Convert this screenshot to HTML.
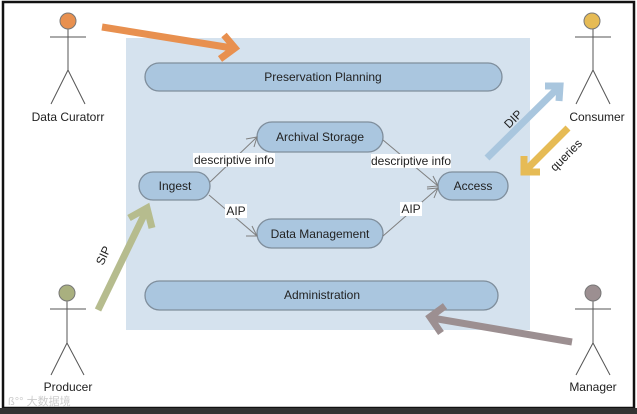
<!DOCTYPE html>
<html><head><meta charset="utf-8"><style>
html,body{margin:0;padding:0;background:#fff;}
svg{display:block;}
text{font-family:"Liberation Sans","Noto Sans CJK SC",sans-serif;}
</style></head><body>
<svg width="637" height="414" viewBox="0 0 637 414" xmlns="http://www.w3.org/2000/svg">
<rect x="0" y="0" width="637" height="414" fill="#fff"/>
<rect x="3" y="2" width="631" height="406" fill="none" stroke="#111" stroke-width="2.5"/>
<rect x="0" y="408" width="637" height="6" fill="#333"/>
<rect x="126" y="38" width="404" height="292" fill="#d5e2ee"/>
<g fill="#aac6df" stroke="#7f8e9c" stroke-width="1.3">
<rect x="145" y="63" width="357" height="28" rx="14"/>
<rect x="257" y="122" width="126" height="30" rx="15"/>
<rect x="139" y="172" width="71" height="28" rx="14"/>
<rect x="438" y="172" width="70" height="28" rx="14"/>
<rect x="257" y="219" width="126" height="29" rx="14.5"/>
<rect x="145" y="281" width="353" height="29" rx="14.5"/>
</g>
<g font-size="12" fill="#222" text-anchor="middle">
<text x="323" y="81">Preservation Planning</text>
<text x="320" y="141">Archival Storage</text>
<text x="175" y="190">Ingest</text>
<text x="473" y="190">Access</text>
<text x="320" y="238">Data Management</text>
<text x="322" y="299">Administration</text>
</g>
<g stroke="#7f7f7f" stroke-width="1" fill="none">
<line x1="210" y1="182" x2="257" y2="137"/>
<polyline points="246,139 257,137 254,147"/>
<line x1="209" y1="195" x2="257" y2="236"/>
<polyline points="246,236 257,236 252,226"/>
<line x1="383" y1="140" x2="438" y2="186"/>
<polyline points="427,187 438,186 433,176"/>
<line x1="383" y1="236" x2="438" y2="188"/>
<polyline points="427,189 438,188 434,198"/>
</g>
<g fill="#fff">
<rect x="193" y="153" width="82" height="14"/>
<rect x="225" y="204" width="22" height="14"/>
<rect x="371" y="154" width="80" height="14"/>
<rect x="400" y="202" width="22" height="14"/>
</g>
<g font-size="12" fill="#222" text-anchor="middle">
<text x="234" y="164">descriptive info</text>
<text x="236" y="215">AIP</text>
<text x="411" y="165">descriptive info</text>
<text x="411" y="213">AIP</text>
</g>
<!-- actors -->
<g stroke="#555" stroke-width="1" fill="none">
<line x1="68" y1="29" x2="68" y2="70"/><line x1="50" y1="37" x2="86" y2="37"/><polyline points="51,104 68,70 85,104"/>
<line x1="593" y1="29" x2="593" y2="70"/><line x1="575" y1="37" x2="611" y2="37"/><polyline points="576,104 593,70 610,104"/>
<line x1="67" y1="301" x2="67" y2="343"/><line x1="50" y1="309" x2="86" y2="309"/><polyline points="51,375 67,343 84,375"/>
<line x1="593" y1="301" x2="593" y2="343"/><line x1="575" y1="309" x2="611" y2="309"/><polyline points="576,375 593,343 610,375"/>
</g>
<circle cx="68" cy="21" r="8" fill="#e8904f" stroke="#777"/>
<circle cx="592" cy="21" r="8" fill="#e6bb55" stroke="#777"/>
<circle cx="67" cy="293" r="8" fill="#a9b07f" stroke="#777"/>
<circle cx="593" cy="293" r="8" fill="#9c8f91" stroke="#777"/>
<g font-size="12" fill="#222" text-anchor="middle">
<text x="68" y="121">Data Curatorr</text>
<text x="597" y="121">Consumer</text>
<text x="68" y="391">Producer</text>
<text x="593" y="391">Manager</text>
</g>
<!-- big arrows -->
<g fill="none" stroke-width="7" stroke-linejoin="miter" stroke-linecap="butt">
<g stroke="#e8904f"><line x1="102" y1="27" x2="232" y2="48"/><polyline points="224,35 235,48 220,59"/></g>
<g stroke="#b6bc8e"><line x1="98" y1="310" x2="146" y2="211"/><polyline points="129,218 147,208 152,228"/></g>
<g stroke="#a9c6de"><line x1="487" y1="158" x2="558" y2="88"/><polyline points="545,86 560,86 559,101"/></g>
<g stroke="#e6bb55"><line x1="568" y1="128" x2="527" y2="169"/><polyline points="524,156 524,172 540,172"/></g>
<g stroke="#9c8f91"><line x1="572" y1="342" x2="432" y2="318"/><polyline points="445,306 430,317 441,333"/></g>
</g>
<g font-size="12" fill="#222">
<text transform="translate(103,266) rotate(-65)">SIP</text>
<text transform="translate(509,129) rotate(-45)">DIP</text>
<text transform="translate(555,172) rotate(-45)">queries</text>
</g>
<text x="8" y="405" font-size="11" fill="#ccc">ß°° 大数据境</text>
</svg>
</body></html>
